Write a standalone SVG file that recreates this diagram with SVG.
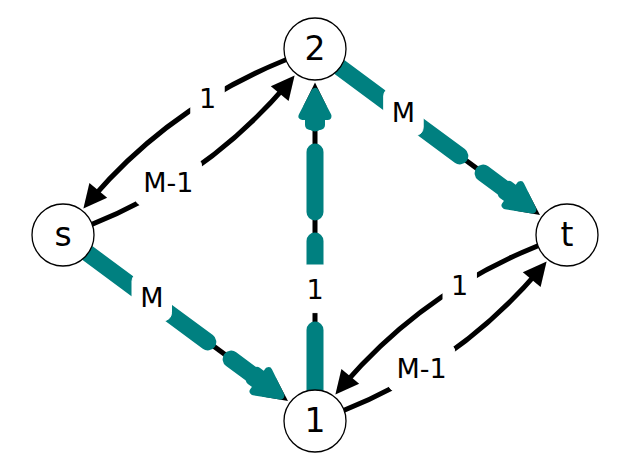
<svg xmlns="http://www.w3.org/2000/svg" xmlns:xlink="http://www.w3.org/1999/xlink" width="630" height="470" viewBox="0 0 630 470">
<style>
.blk{fill:none;stroke:#000;stroke-width:5}
.tl{fill:none;stroke:#008080;stroke-width:17;stroke-linecap:round;stroke-dasharray:60 29}
.lbox{fill:#fff;stroke:#fff;stroke-width:1}
.lt{font-family:"DejaVu Sans",sans-serif;font-size:27px;fill:#000;text-anchor:middle}
.node circle{fill:#fff;stroke:#000;stroke-width:1.3}
.node text{font-family:"DejaVu Sans",sans-serif;font-size:33px;fill:#000;text-anchor:middle}
</style>
<defs>
<polygon id="bh" points="0.5,0 -23,-11.5 -23,11.5" fill="#000"/>
<g id="th">
<polygon points="-9,0 -33,-12.5 -33,12.5" fill="#008080" stroke="#008080" stroke-width="8" stroke-linejoin="round"/>
<rect x="-47" y="-10" width="17" height="20" rx="5" fill="#008080"/>
</g>
</defs>
<g id="edges">
<path class="blk" d="M63,235 Q196.65,189.7 286.5,85.1"/>
<use xlink:href="#bh" transform="translate(294.3,75.9) rotate(-50.6)"/>
<path class="blk" d="M315,49 Q181.35,94.28 91.5,198.9"/>
<use xlink:href="#bh" transform="translate(83.7,208.1) rotate(129.4)"/>
<path class="blk" d="M315,421 Q448.65,375.72 538.5,271.1"/>
<use xlink:href="#bh" transform="translate(546.3,261.9) rotate(-50.6)"/>
<path class="blk" d="M567,235 Q433.35,280.28 343.5,384.9"/>
<use xlink:href="#bh" transform="translate(335.7,394.1) rotate(129.4)"/>
<line class="blk" x1="87.94" y1="253.41" x2="277.98" y2="393.68"/>
<use xlink:href="#bh" transform="translate(287.6,400.8) rotate(36.4)"/>
<line class="tl" x1="87.94" y1="253.41" x2="263.5" y2="383"/>
<use xlink:href="#th" transform="translate(287.6,400.8) rotate(36.4)"/>
<line class="blk" x1="339.94" y1="67.41" x2="529.98" y2="207.68"/>
<use xlink:href="#bh" transform="translate(539.6,214.8) rotate(36.4)"/>
<line class="tl" x1="339.94" y1="67.41" x2="515.5" y2="197"/>
<use xlink:href="#th" transform="translate(539.6,214.8) rotate(36.4)"/>
<line class="blk" x1="315" y1="390" x2="315" y2="95"/>
<use xlink:href="#bh" transform="translate(315,83) rotate(-90)"/>
<line class="tl" x1="315" y1="390" x2="315" y2="113"/>
<use xlink:href="#th" transform="translate(315,83) rotate(-90)"/>
</g>
<g id="edge-labels">
<rect class="lbox" x="190.8" y="74.5" width="33.4" height="47.6" rx="8"/>
<text class="lt" x="207.5" y="108.3">1</text>
<rect class="lbox" x="135.2" y="157.9" width="66.4" height="47.6" rx="8"/>
<text class="lt" x="168.4" y="191.7">M-1</text>
<rect class="lbox" x="132" y="273.2" width="39.5" height="47.6" rx="8"/>
<text class="lt" x="151.8" y="307">M</text>
<rect class="lbox" x="383.7" y="87.9" width="39.5" height="47.6" rx="8"/>
<text class="lt" x="403.5" y="121.7">M</text>
<rect class="lbox" x="298.3" y="265" width="33.4" height="47.6" rx="8"/>
<text class="lt" x="315" y="298.8">1</text>
<rect class="lbox" x="443" y="261.2" width="33.4" height="47.6" rx="8"/>
<text class="lt" x="459.7" y="295">1</text>
<rect class="lbox" x="388.5" y="343.9" width="66.4" height="47.6" rx="8"/>
<text class="lt" x="421.7" y="377.7">M-1</text>
</g>
<g id="node-s" class="node"><circle cx="63" cy="235" r="31"/><text x="63" y="245.5">s</text></g>
<g id="node-2" class="node"><circle cx="315" cy="49" r="31"/><text x="315" y="59.5">2</text></g>
<g id="node-t" class="node"><circle cx="567" cy="235" r="31"/><text x="567" y="245.5">t</text></g>
<g id="node-1" class="node"><circle cx="315" cy="421" r="31"/><text x="315" y="431.5">1</text></g>
</svg>
